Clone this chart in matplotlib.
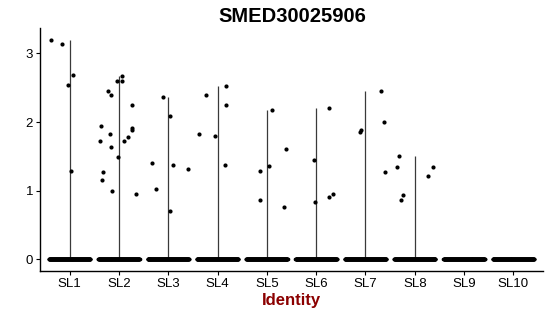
import numpy as np
import matplotlib
matplotlib.use("Agg")
import matplotlib.pyplot as plt

plt.rcParams["font.family"] = ["Liberation Sans", "DejaVu Sans"]

GENE = "SMED30025906"
GROUPS = ["SL1", "SL2", "SL3", "SL4", "SL5", "SL6", "SL7", "SL8", "SL9", "SL10"]

# non-zero expression values per cluster, with the jitter offset
VALUES = {
    "SL1": [3.20, 3.13, 2.68, 2.54, 1.28],
    "SL2": [2.67, 2.60, 2.60, 2.45, 2.40, 2.25, 1.94, 1.91, 1.88, 1.82,
            1.78, 1.72, 1.72, 1.64, 1.49, 1.27, 1.15, 1.00, 0.95],
    "SL3": [2.36, 2.09, 1.41, 1.37, 1.32, 1.03, 0.70],
    "SL4": [2.52, 2.40, 2.25, 1.82, 1.80, 1.38],
    "SL5": [2.18, 1.61, 1.36, 1.29, 0.87, 0.76],
    "SL6": [2.20, 1.44, 0.84, 0.91, 0.95],
    "SL7": [2.45, 2.00, 1.86, 1.88, 1.27],
    "SL8": [1.51, 1.34, 0.94, 0.87, 1.34, 1.21],
    "SL9": [],
    "SL10": [],
}
JITTER = {
    "SL1": [-0.37, -0.16, 0.075, -0.04, 0.02],
    "SL2": [0.07, -0.03, 0.06, -0.23, -0.16, 0.26, -0.36, 0.26, 0.26, -0.19,
            0.18, -0.39, 0.10, -0.17, -0.01, -0.33, -0.35, -0.13, 0.35],
    "SL3": [-0.10, 0.04, -0.33, 0.09, 0.40, -0.24, 0.04],
    "SL4": [0.18, -0.23, 0.18, -0.37, -0.05, 0.16],
    "SL5": [0.10, 0.38, 0.05, -0.14, -0.14, 0.35],
    "SL6": [0.26, -0.04, -0.03, 0.27, 0.35],
    "SL7": [0.31, 0.37, -0.12, -0.09, 0.40],
    "SL8": [-0.33, -0.37, -0.23, -0.28, 0.36, 0.26],
    "SL9": [],
    "SL10": [],
}
N_ZERO = 250  # cells with zero expression, per cluster (dense band)

fig = plt.figure(figsize=(5.5, 3.16), dpi=100)
ax = fig.add_axes([40 / 550, 1 - 271 / 316, 503 / 550, 243 / 316])

for i, g in enumerate(GROUPS):
    xc = i + 1
    vals = VALUES[g]
    # violin is squashed to a line from 0 to the max value
    if vals:
        ax.vlines(xc, 0, max(vals), color="#3a3a3a", lw=0.9, zorder=1)
    zx = xc + np.linspace(-0.42, 0.42, N_ZERO)
    ax.scatter(zx, np.zeros(N_ZERO), s=7, color="black", lw=0, zorder=2)
    if vals:
        ax.scatter(xc + np.array(JITTER[g]), vals, s=9, color="black", lw=0, zorder=3)

ax.set_xlim(0.4, 10.6)
ax.set_ylim(-0.17, 3.37)
ax.set_xticks(range(1, len(GROUPS) + 1))
ax.set_xticklabels(GROUPS)
ax.set_yticks([0, 1, 2, 3])
ax.tick_params(labelsize=9.5, length=3, width=0.8, pad=2, colors="black")
for s in ["top", "right"]:
    ax.spines[s].set_visible(False)
for s in ["left", "bottom"]:
    ax.spines[s].set_linewidth(1.0)

ax.set_xlabel("Identity", fontsize=12, fontweight="bold", color="#8B0000", labelpad=2)
fig.text(292 / 550, 1 - 17 / 316, GENE, ha="center", va="center",
         fontsize=14.5, fontweight="bold")

fig.savefig("out.png", dpi=100)
